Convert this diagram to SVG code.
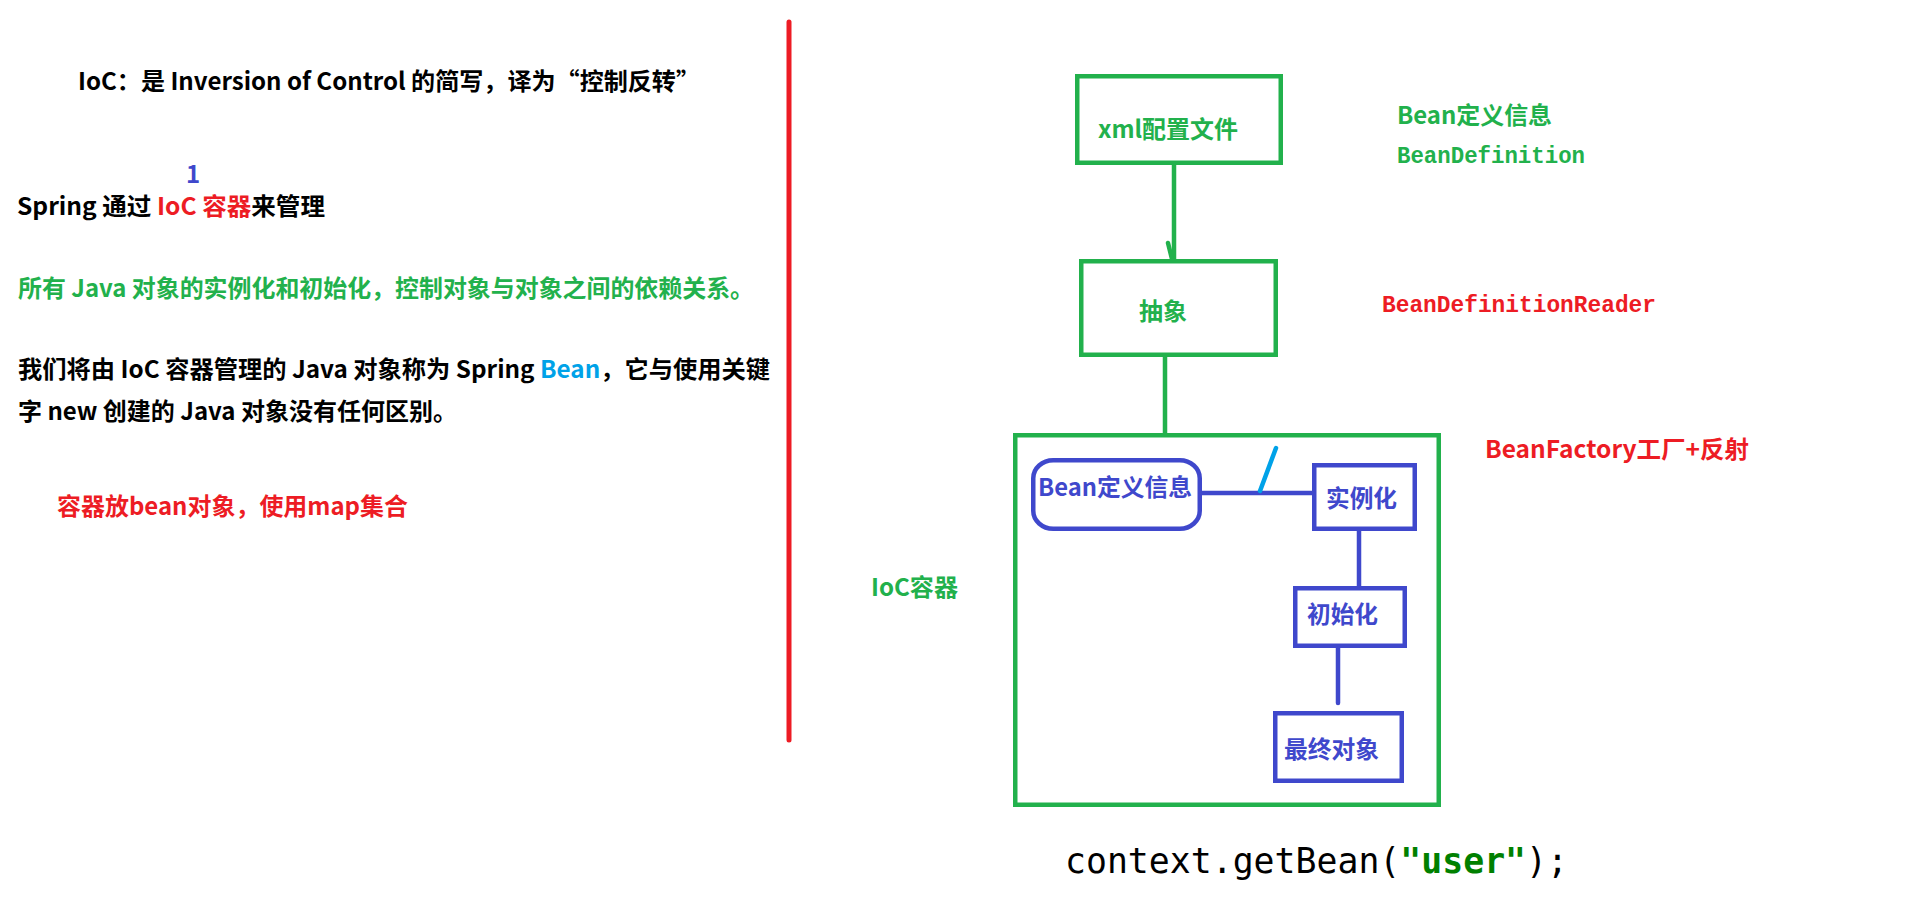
<svg xmlns="http://www.w3.org/2000/svg" width="1919" height="917" viewBox="0 0 1919 917">
<style>
text{font-family:"Noto Sans CJK SC","Noto Sans",sans-serif;font-weight:bold;font-size:24px}
.blk{fill:#000}
.red{fill:#ED1C24}
.grn{fill:#22B14C}
.blu{fill:#3F48CC}
.cyn{fill:#00A2E8}
.mono{font-family:"Liberation Mono","DejaVu Sans Mono",monospace;font-weight:bold;font-size:23px}
.code{font-family:"DejaVu Sans Mono","Liberation Mono",monospace;font-weight:normal;font-size:35px}
.gbox{fill:none;stroke:#22B14C;stroke-width:4.5}
.bbox{fill:none;stroke:#3F48CC;stroke-width:4.5}
.gline{stroke:#22B14C;stroke-width:4.5;fill:none;stroke-linecap:round}
.bline{stroke:#3F48CC;stroke-width:4.5;fill:none;stroke-linecap:round}
</style>

<g id="left-notes">
<text class="blk" x="78" y="90" textLength="622" lengthAdjust="spacingAndGlyphs">IoC：是 Inversion of Control 的简写，译为“控制反转”</text>
<text class="blu" x="193" y="183" text-anchor="middle" font-size="25">1</text>
<text class="blk" x="17" y="215" textLength="308" lengthAdjust="spacingAndGlyphs">Spring 通过 <tspan class="red">IoC 容器</tspan>来管理</text>
<text class="grn" x="18" y="297" textLength="736" lengthAdjust="spacingAndGlyphs">所有 Java 对象的实例化和初始化，控制对象与对象之间的依赖关系。</text>
<text class="blk" x="18" y="378" textLength="752" lengthAdjust="spacingAndGlyphs">我们将由 IoC 容器管理的 Java 对象称为 Spring <tspan class="cyn">Bean</tspan>，它与使用关键</text>
<text class="blk" x="18" y="420" textLength="439" lengthAdjust="spacingAndGlyphs">字 new 创建的 Java 对象没有任何区别。</text>
<text class="red" x="57" y="515" textLength="351" lengthAdjust="spacingAndGlyphs">容器放bean对象，使用map集合</text>
</g>

<g id="divider">
<line x1="789" y1="22" x2="789" y2="740" stroke="#ED1C24" stroke-width="5" stroke-linecap="round"/>
</g>

<g id="connectors">
<line class="gline" x1="1174" y1="165" x2="1174" y2="259"/>
<line class="gline" x1="1168" y1="243" x2="1172" y2="259"/>
<line class="gline" x1="1165" y1="357" x2="1165" y2="433"/>
<line class="bline" x1="1202" y1="493" x2="1312" y2="493"/>
<line x1="1260" y1="491" x2="1276" y2="448" stroke="#00A2E8" stroke-width="4.5" stroke-linecap="round"/>
<line class="bline" x1="1359" y1="531" x2="1359" y2="586"/>
<line class="bline" x1="1338" y1="648" x2="1338" y2="703"/>
</g>

<g id="node-xml">
<rect class="gbox" x="1077.25" y="76.25" width="203.5" height="86.5"/>
<text class="grn" x="1098" y="138" textLength="140" lengthAdjust="spacingAndGlyphs">xml配置文件</text>
</g>

<g id="node-abstract">
<rect class="gbox" x="1081.25" y="261.25" width="194.5" height="93.5"/>
<text class="grn" x="1139" y="320">抽象</text>
</g>

<g id="node-container">
<rect class="gbox" x="1015.25" y="435.25" width="423.5" height="369.5"/>
</g>

<g id="node-beandef">
<rect class="bbox" x="1033.25" y="460.25" width="166.5" height="68.5" rx="20" ry="18"/>
<text class="blu" x="1038" y="496" textLength="154" lengthAdjust="spacingAndGlyphs">Bean定义信息</text>
</g>

<g id="node-instantiate">
<rect class="bbox" x="1314.25" y="465.25" width="100.5" height="63.5"/>
<text class="blu" x="1326" y="507" textLength="71" lengthAdjust="spacingAndGlyphs">实例化</text>
</g>

<g id="node-init">
<rect class="bbox" x="1295.25" y="588.25" width="109.5" height="57.5"/>
<text class="blu" x="1307" y="623" textLength="71" lengthAdjust="spacingAndGlyphs">初始化</text>
</g>

<g id="node-final">
<rect class="bbox" x="1275.25" y="713.25" width="126.5" height="67.5"/>
<text class="blu" x="1284" y="758" textLength="95" lengthAdjust="spacingAndGlyphs">最终对象</text>
</g>

<g id="labels">
<text class="grn" x="1397" y="124" textLength="155" lengthAdjust="spacingAndGlyphs">Bean定义信息</text>
<text class="grn mono" x="1397" y="163" textLength="188" lengthAdjust="spacingAndGlyphs">BeanDefinition</text>
<text class="red mono" x="1382" y="312" textLength="274" lengthAdjust="spacingAndGlyphs">BeanDefinitionReader</text>
<text class="red" x="1485" y="458" textLength="264" lengthAdjust="spacingAndGlyphs">BeanFactory工厂+反射</text>
<text class="grn" x="871" y="596" textLength="87" lengthAdjust="spacingAndGlyphs">IoC容器</text>
<text class="code blk" x="1065" y="873" textLength="503" lengthAdjust="spacingAndGlyphs">context.getBean(<tspan fill="#008000" font-weight="bold">"user"</tspan>);</text>
</g>
</svg>
